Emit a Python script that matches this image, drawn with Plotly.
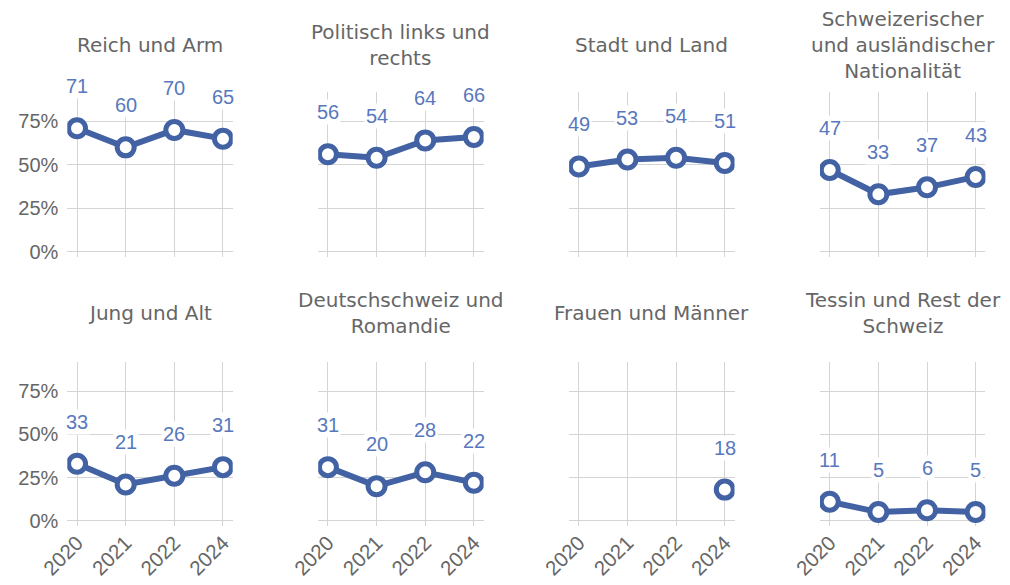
import plotly.graph_objects as go

years = ["2020", "2021", "2022", "2024"]
titles = [
    "Reich und Arm",
    "Politisch links und<br>rechts",
    "Stadt und Land",
    "Schweizerischer<br>und ausländischer<br>Nationalität",
    "Jung und Alt",
    "Deutschschweiz und<br>Romandie",
    "Frauen und Männer",
    "Tessin und Rest der<br>Schweiz",
]
reich_arm = [71, 60, 70, 65]
links_rechts = [56, 54, 64, 66]
stadt_land = [49, 53, 54, 51]
nationalitaet = [47, 33, 37, 43]
jung_alt = [33, 21, 26, 31]
deutsch_romandie = [31, 20, 28, 22]
frauen_maenner = [None, None, None, 18]
tessin_rest = [11, 5, 6, 5]
series = [reich_arm, links_rechts, stadt_land, nationalitaet,
          jung_alt, deutsch_romandie, frauen_maenner, tessin_rest]
y_ticks = [0, 25, 50, 75]
y_tick_text = ["0%", "25%", "50%", "75%"]

LINE = "#4262a4"
LABEL = "#5878bd"
GRID = "#d4d4d4"
GRAY = "#666666"
FONT = "Liberation Sans, Arial, sans-serif"
TFONT = "DejaVu Sans, sans-serif"

OFF = 8  # page body margin
W, H = 1010 - OFF, 585 - OFF
col_x0 = [67.3, 318.2, 569.1, 820.0]
col_w = 165.4
row_top = [91.7, 361.7]
row_bot = [256.9, 525.9]
title_y = [45, 313]


def fx(px):
    return (px - OFF) / W


def fy(py):
    return 1 - (py - OFF) / H


fig = go.Figure()
layout = dict(
    width=W, height=H, margin=dict(l=0, r=0, t=0, b=0, autoexpand=False),
    paper_bgcolor="white", plot_bgcolor="white", showlegend=False,
    font=dict(family=FONT, color=GRAY),
)
annotations = []
for i, vals in enumerate(series):
    r, c = divmod(i, 4)
    n = i + 1
    xa = "x" if n == 1 else f"x{n}"
    ya = "y" if n == 1 else f"y{n}"
    fig.add_trace(go.Scatter(
        x=years, y=vals, xaxis=xa, yaxis=ya, mode="lines+markers",
        line=dict(color=LINE, width=6),
        marker=dict(size=17, color="white", line=dict(color=LINE, width=5)),
        connectgaps=False, hoverinfo="skip",
    ))
    for j, v in enumerate(vals):
        if v is None:
            continue
        annotations.append(dict(
            x=j, y=v, xref=xa, yref=ya, text=str(v), showarrow=False,
            yshift=42, yanchor="middle", xanchor="center",
            bgcolor="white", borderpad=1,
            font=dict(family=FONT, size=20, color=LABEL),
        ))
    x0 = fx(col_x0[c])
    x1 = fx(col_x0[c] + col_w)
    annotations.append(dict(
        x=(x0 + x1) / 2, y=fy(title_y[r]), xref="paper", yref="paper",
        text=titles[i], showarrow=False, xanchor="center", yanchor="middle",
        font=dict(family=TFONT, size=20, color=GRAY),
    ))
    layout["xaxis" if n == 1 else f"xaxis{n}"] = dict(
        domain=[x0, x1], anchor=ya, type="category",
        categoryorder="array", categoryarray=years,
        range=[-0.2, 3.2], showgrid=True, gridcolor=GRID, gridwidth=1,
        showline=False, zeroline=False, ticks="", automargin=False,
        showticklabels=(r == 1), tickangle=-45,
        tickfont=dict(family=FONT, size=20.5, color=GRAY),
        fixedrange=True,
    )
    layout["yaxis" if n == 1 else f"yaxis{n}"] = dict(
        domain=[fy(row_bot[r]), fy(row_top[r])], anchor=xa,
        range=[-3, 92], tickvals=y_ticks, ticktext=y_tick_text,
        showgrid=True, gridcolor=GRID, gridwidth=1, zeroline=False,
        showline=False, ticks="", showticklabels=(c == 0),
        ticklabelstandoff=8, automargin=False,
        tickfont=dict(family=FONT, size=20, color=GRAY),
        fixedrange=True,
    )

layout["annotations"] = annotations
fig.update_layout(**layout)
fig.write_html("out.html")
